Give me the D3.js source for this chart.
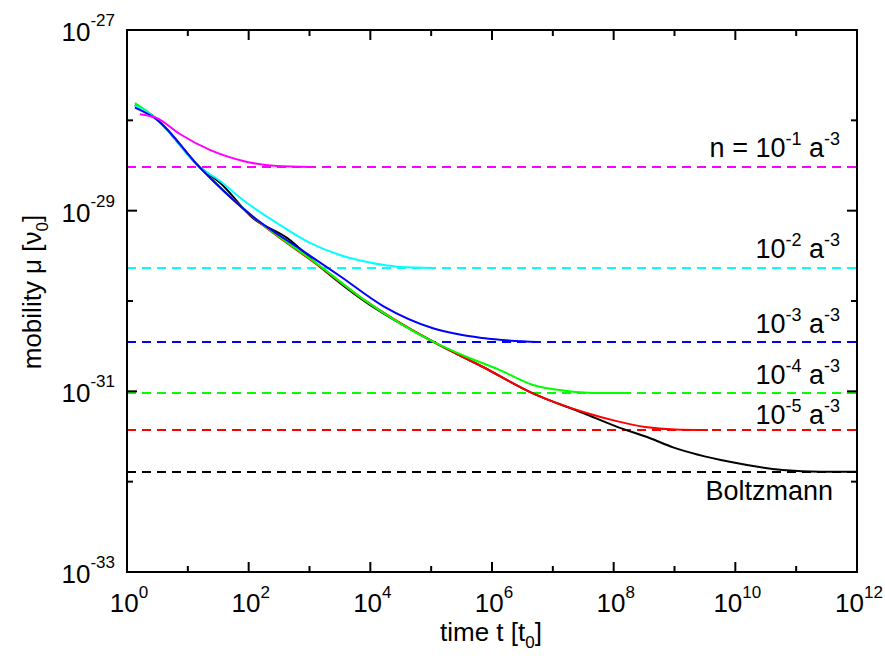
<html>
<head>
<script src="https://d3js.org/d3.v7.min.js"></script>
<style>
  body { margin: 0; background: #fff; }
  text { font-family: "Liberation Sans", Arial, sans-serif; fill: #000; }
</style>
</head>
<body>
<svg id="chart" width="885" height="658"></svg>
<script>
// points are [time t (t0), mobility mu (v0)]
const boltzmann = [[1.35, 1.48e-28], [2.9, 1.07e-28], [15.8, 3.02e-29], [33.9, 2.04e-29], [117, 8.3e-30],
  [427, 5.0e-30], [1480, 2.4e-30], [7590, 1.02e-30], [1.07e5, 3.55e-31], [7.1e5, 1.86e-31], [4.7e6, 9.5e-32],
  [3.16e7, 5.75e-32], [1.12e8, 4.07e-32], [3.98e8, 3.02e-32], [9.5e8, 2.4e-32], [8.1e9, 1.66e-32],
  [6.0e10, 1.35e-32], [2.45e11, 1.29e-32], [1e12, 1.29e-32]];
const n1e5 = [[1.35, 1.45e-28], [2.9, 1.07e-28], [15.8, 3.0e-29], [117, 8.5e-30], [1480, 2.4e-30],
  [7590, 1.05e-30], [1.07e5, 3.55e-31], [7.1e5, 1.86e-31], [4.7e6, 9.5e-32], [3.16e7, 5.9e-32],
  [1.12e8, 4.68e-32], [3.3e8, 4.03e-32], [1.02e9, 3.78e-32], [3.55e9, 3.73e-32]];
const n1e4 = [[1.35, 1.55e-28], [2.9, 1.07e-28], [15.8, 3.0e-29], [117, 8.6e-30], [1480, 2.45e-30],
  [7590, 1.05e-30], [1.07e5, 3.55e-31], [3.88e5, 2.4e-31], [1.35e6, 1.72e-31], [4.72e6, 1.175e-31],
  [1.71e7, 1.01e-31], [5.96e7, 9.57e-32], [1.54e8, 9.57e-32]];
const n1e3 = [[1.35, 1.38e-28], [2.9, 1.05e-28], [15.8, 3.0e-29], [117, 8.6e-30], [697, 3.77e-30],
  [3160, 1.89e-30], [1.62e4, 8.8e-31], [1.07e5, 5.0e-31], [7.1e5, 3.89e-31], [5.7e6, 3.52e-31]];
const n1e2 = [[1.35, 1.45e-28], [2.9, 1.07e-28], [15.8, 3.02e-29], [33.9, 2.13e-29], [81, 1.31e-29],
  [292, 7.3e-30], [1020, 4.39e-30], [3550, 3.15e-30], [8900, 2.7e-30], [3.1e4, 2.38e-30], [1.07e5, 2.32e-30]];
const n1e1 = [[1.63, 1.17e-28], [3.1, 1.06e-28], [7.4, 7.06e-29], [23, 4.7e-29], [81, 3.55e-29],
  [292, 3.12e-29], [1020, 3.04e-29]];

// asymptotic mobilities (dashed lines), top to bottom
const limitValues = [3.04e-29, 2.32e-30, 3.52e-31, 9.6e-32, 3.73e-32, 1.28e-32];
const seriesColors = ["#ff00ff", "#00ffff", "#0000ff", "#00ff00", "#ff0000", "#000000"];
const seriesData = [n1e1, n1e2, n1e3, n1e4, n1e5, boltzmann];
// density exponents for the labels ; null = Boltzmann
const labelExps = ["-1", "-2", "-3", "-4", "-5", null];
const labelBaselines = [157, 258, 333, 384, 424, 500];

const xTickExps = d3.range(0, 13);
const yTickExps = d3.range(-33, -26);

const svg = d3.select("#chart");
const mLeft = 127, mRight = 857, mTop = 30, mBottom = 572;

const x = d3.scaleLog().domain([1, 1e12]).range([mLeft, mRight]);
const y = d3.scaleLog().domain([1e-33, 1e-27]).range([mBottom, mTop]);

// dashed limits
svg.append("g").selectAll("line")
  .data(limitValues)
  .join("line")
  .attr("x1", mLeft).attr("x2", mRight)
  .attr("y1", d => y(d)).attr("y2", d => y(d))
  .attr("stroke", (d, i) => seriesColors[i])
  .attr("stroke-width", 2)
  .attr("stroke-dasharray", "9,6");

// curves
const line = d3.line().x(d => x(d[0])).y(d => y(d[1])).curve(d3.curveMonotoneX);
const drawOrder = [5, 4, 3, 1, 2, 0];
svg.append("g").selectAll("path")
  .data(drawOrder)
  .join("path")
  .attr("d", i => line(seriesData[i]))
  .attr("fill", "none")
  .attr("stroke", i => seriesColors[i])
  .attr("stroke-width", 2);

// frame
svg.append("rect")
  .attr("x", mLeft).attr("y", mTop)
  .attr("width", mRight - mLeft).attr("height", mBottom - mTop)
  .attr("fill", "none").attr("stroke", "#000").attr("stroke-width", 2);

// ticks on all four sides, pointing in
const ticks = svg.append("g").attr("stroke", "#000").attr("stroke-width", 2);
xTickExps.forEach(e => {
  const len = e % 2 === 0 ? 10 : 6;
  const px = x(Math.pow(10, e));
  ticks.append("line").attr("x1", px).attr("x2", px).attr("y1", mBottom).attr("y2", mBottom - len);
  ticks.append("line").attr("x1", px).attr("x2", px).attr("y1", mTop).attr("y2", mTop + len);
});
yTickExps.forEach(e => {
  const len = e % 2 !== 0 ? 10 : 6;
  const py = y(Math.pow(10, e));
  ticks.append("line").attr("x1", mLeft).attr("x2", mLeft + len).attr("y1", py).attr("y2", py);
  ticks.append("line").attr("x1", mRight).attr("x2", mRight - len).attr("y1", py).attr("y2", py);
});

// tick labels
function powerLabel(sel, exp, shift) {
  sel.append("tspan").text("10");
  sel.append("tspan").attr("dy", -shift).style("font-size", "17px").text(exp);
}
xTickExps.filter(e => e % 2 === 0).forEach(e => {
  const t = svg.append("text")
    .attr("x", x(Math.pow(10, e)) + 2).attr("y", mBottom + 40)
    .attr("text-anchor", "middle").style("font-size", "26px");
  powerLabel(t, String(e), 14);
});
yTickExps.filter(e => e % 2 !== 0).forEach(e => {
  const t = svg.append("text")
    .attr("x", 115).attr("y", y(Math.pow(10, e)) + 11)
    .attr("text-anchor", "end").style("font-size", "26px");
  powerLabel(t, String(e), 15);
});

// axis titles
const xt = svg.append("text").attr("x", 491).attr("y", 641)
  .attr("text-anchor", "middle").style("font-size", "26px");
xt.append("tspan").text("time t [t");
xt.append("tspan").attr("dy", 7).style("font-size", "17px").text("0");
xt.append("tspan").attr("dy", -7).text("]");

const yt = svg.append("text").attr("transform", "translate(41,292) rotate(-90)")
  .attr("text-anchor", "middle").style("font-size", "26px");
yt.append("tspan").text("mobility \u03bc [\u03bd");
yt.append("tspan").attr("dy", 7).style("font-size", "17px").text("0");
yt.append("tspan").attr("dy", -7).text("]");

// density labels
labelExps.forEach((e, i) => {
  const t = svg.append("text").attr("x", 840).attr("y", labelBaselines[i])
    .attr("text-anchor", "end").style("font-size", "27px");
  if (e === null) {
    t.attr("x", 833).text("Boltzmann");
    return;
  }
  t.append("tspan").text(i === 0 ? "n = 10" : "10");
  t.append("tspan").attr("dy", -12).style("font-size", "18px").text(e);
  t.append("tspan").attr("dy", 12).text(" a");
  t.append("tspan").attr("dy", -12).style("font-size", "18px").text("-3");
});
</script>
</body>
</html>
